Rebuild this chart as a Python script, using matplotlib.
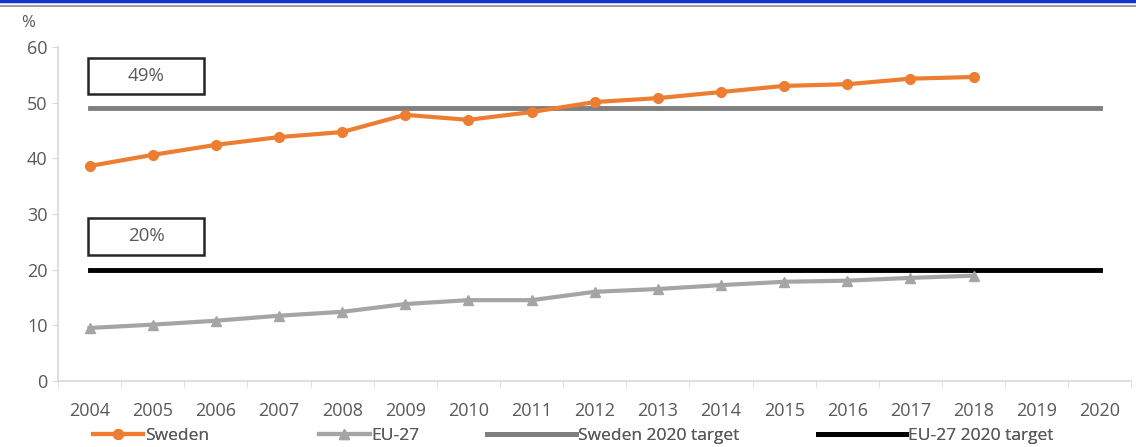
import numpy as np
import matplotlib.pyplot as plt
from matplotlib.lines import Line2D

plt.rcParams['font.family'] = ['Open Sans', 'DejaVu Sans']

# data to plot
years = ['2004', '2005', '2006', '2007', '2008', '2009', '2010', '2011', '2012',
         '2013', '2014', '2015', '2016', '2017', '2018', '2019', '2020']
sweden = [38.6, 40.6, 42.4, 43.8, 44.7, 47.8, 46.9, 48.3, 50.1,
          50.8, 51.9, 53.0, 53.3, 54.3, 54.6]
eu27 = [9.5, 10.1, 10.8, 11.7, 12.4, 13.8, 14.5, 14.5, 16.0,
        16.5, 17.2, 17.8, 18.0, 18.5, 18.9]
sweden_target = 49
eu27_target = 20
box_labels = ['49%', '20%']

txt = '#595959'
fig = plt.figure(figsize=(11.36, 4.47), dpi=100)
ax = fig.add_axes([0.051, 0.148, 0.945, 0.747])

x = np.arange(len(years))
l1, = ax.plot(x[:len(sweden)], sweden, color='#ED7D31', lw=3, marker='o', ms=7,
              label='Sweden', zorder=4)
l2, = ax.plot(x[:len(eu27)], eu27, color='#A5A5A5', lw=3, marker='^', ms=7,
              label='EU-27', zorder=4)
l3, = ax.plot(x, [sweden_target] * len(x), color='#7F7F7F', lw=3.5,
              label='Sweden 2020 target', zorder=3)
l4, = ax.plot(x, [eu27_target] * len(x), color='black', lw=3.5,
              label='EU-27 2020 target', zorder=3)

# value boxes
for y0, lab in zip([51.6, 22.7], box_labels):
    ax.add_patch(plt.Rectangle((-0.02, y0), 1.84, 6.5, fc='white', ec='#262626',
                               lw=1.8, zorder=5))
    ax.text(0.9, y0 + 3.25, lab, ha='center', va='center', fontsize=13.5,
            color=txt, zorder=6)

ax.set_xlim(-0.5, len(years) - 0.5)
ax.set_ylim(0, 60)
ax.set_yticks(range(0, 61, 10))
ax.set_xticks(x)
ax.set_xticklabels(years)
ax.set_xticks(np.arange(-0.5, len(years), 1), minor=True)
ax.tick_params(axis='x', which='major', length=0, pad=15, labelsize=13, labelcolor=txt)
ax.tick_params(axis='x', which='minor', length=4, color='#D9D9D9')
ax.tick_params(axis='y', length=4, color='#D9D9D9', labelsize=13, labelcolor=txt)
for s in ['top', 'right']:
    ax.spines[s].set_visible(False)
for s in ['left', 'bottom']:
    ax.spines[s].set_color('#D9D9D9')
    ax.spines[s].set_linewidth(1.2)

fig.text(0.025, 0.94, '%', fontsize=12, color=txt, ha='center')

# legend entries placed like the original
for h, xpos, hl in [(l1, 0.082, 2.9), (l2, 0.281, 2.9), (l3, 0.429, 5.1), (l4, 0.720, 5.1)]:
    lg = fig.legend(handles=[h], loc='center left', bbox_to_anchor=(xpos, 0.024),
                    frameon=False, fontsize=12.5, handlelength=hl, handletextpad=0.1,
                    borderaxespad=0, borderpad=0, labelcolor=txt)
    fig.add_artist(lg)

# top border lines
fig.add_artist(Line2D([0, 1], [0.997, 0.997], color='#1432D2', lw=2.5))
fig.add_artist(Line2D([0, 1], [0.986, 0.986], color='#8C8C8C', lw=1.2))

fig.savefig('out.png', dpi=100)
